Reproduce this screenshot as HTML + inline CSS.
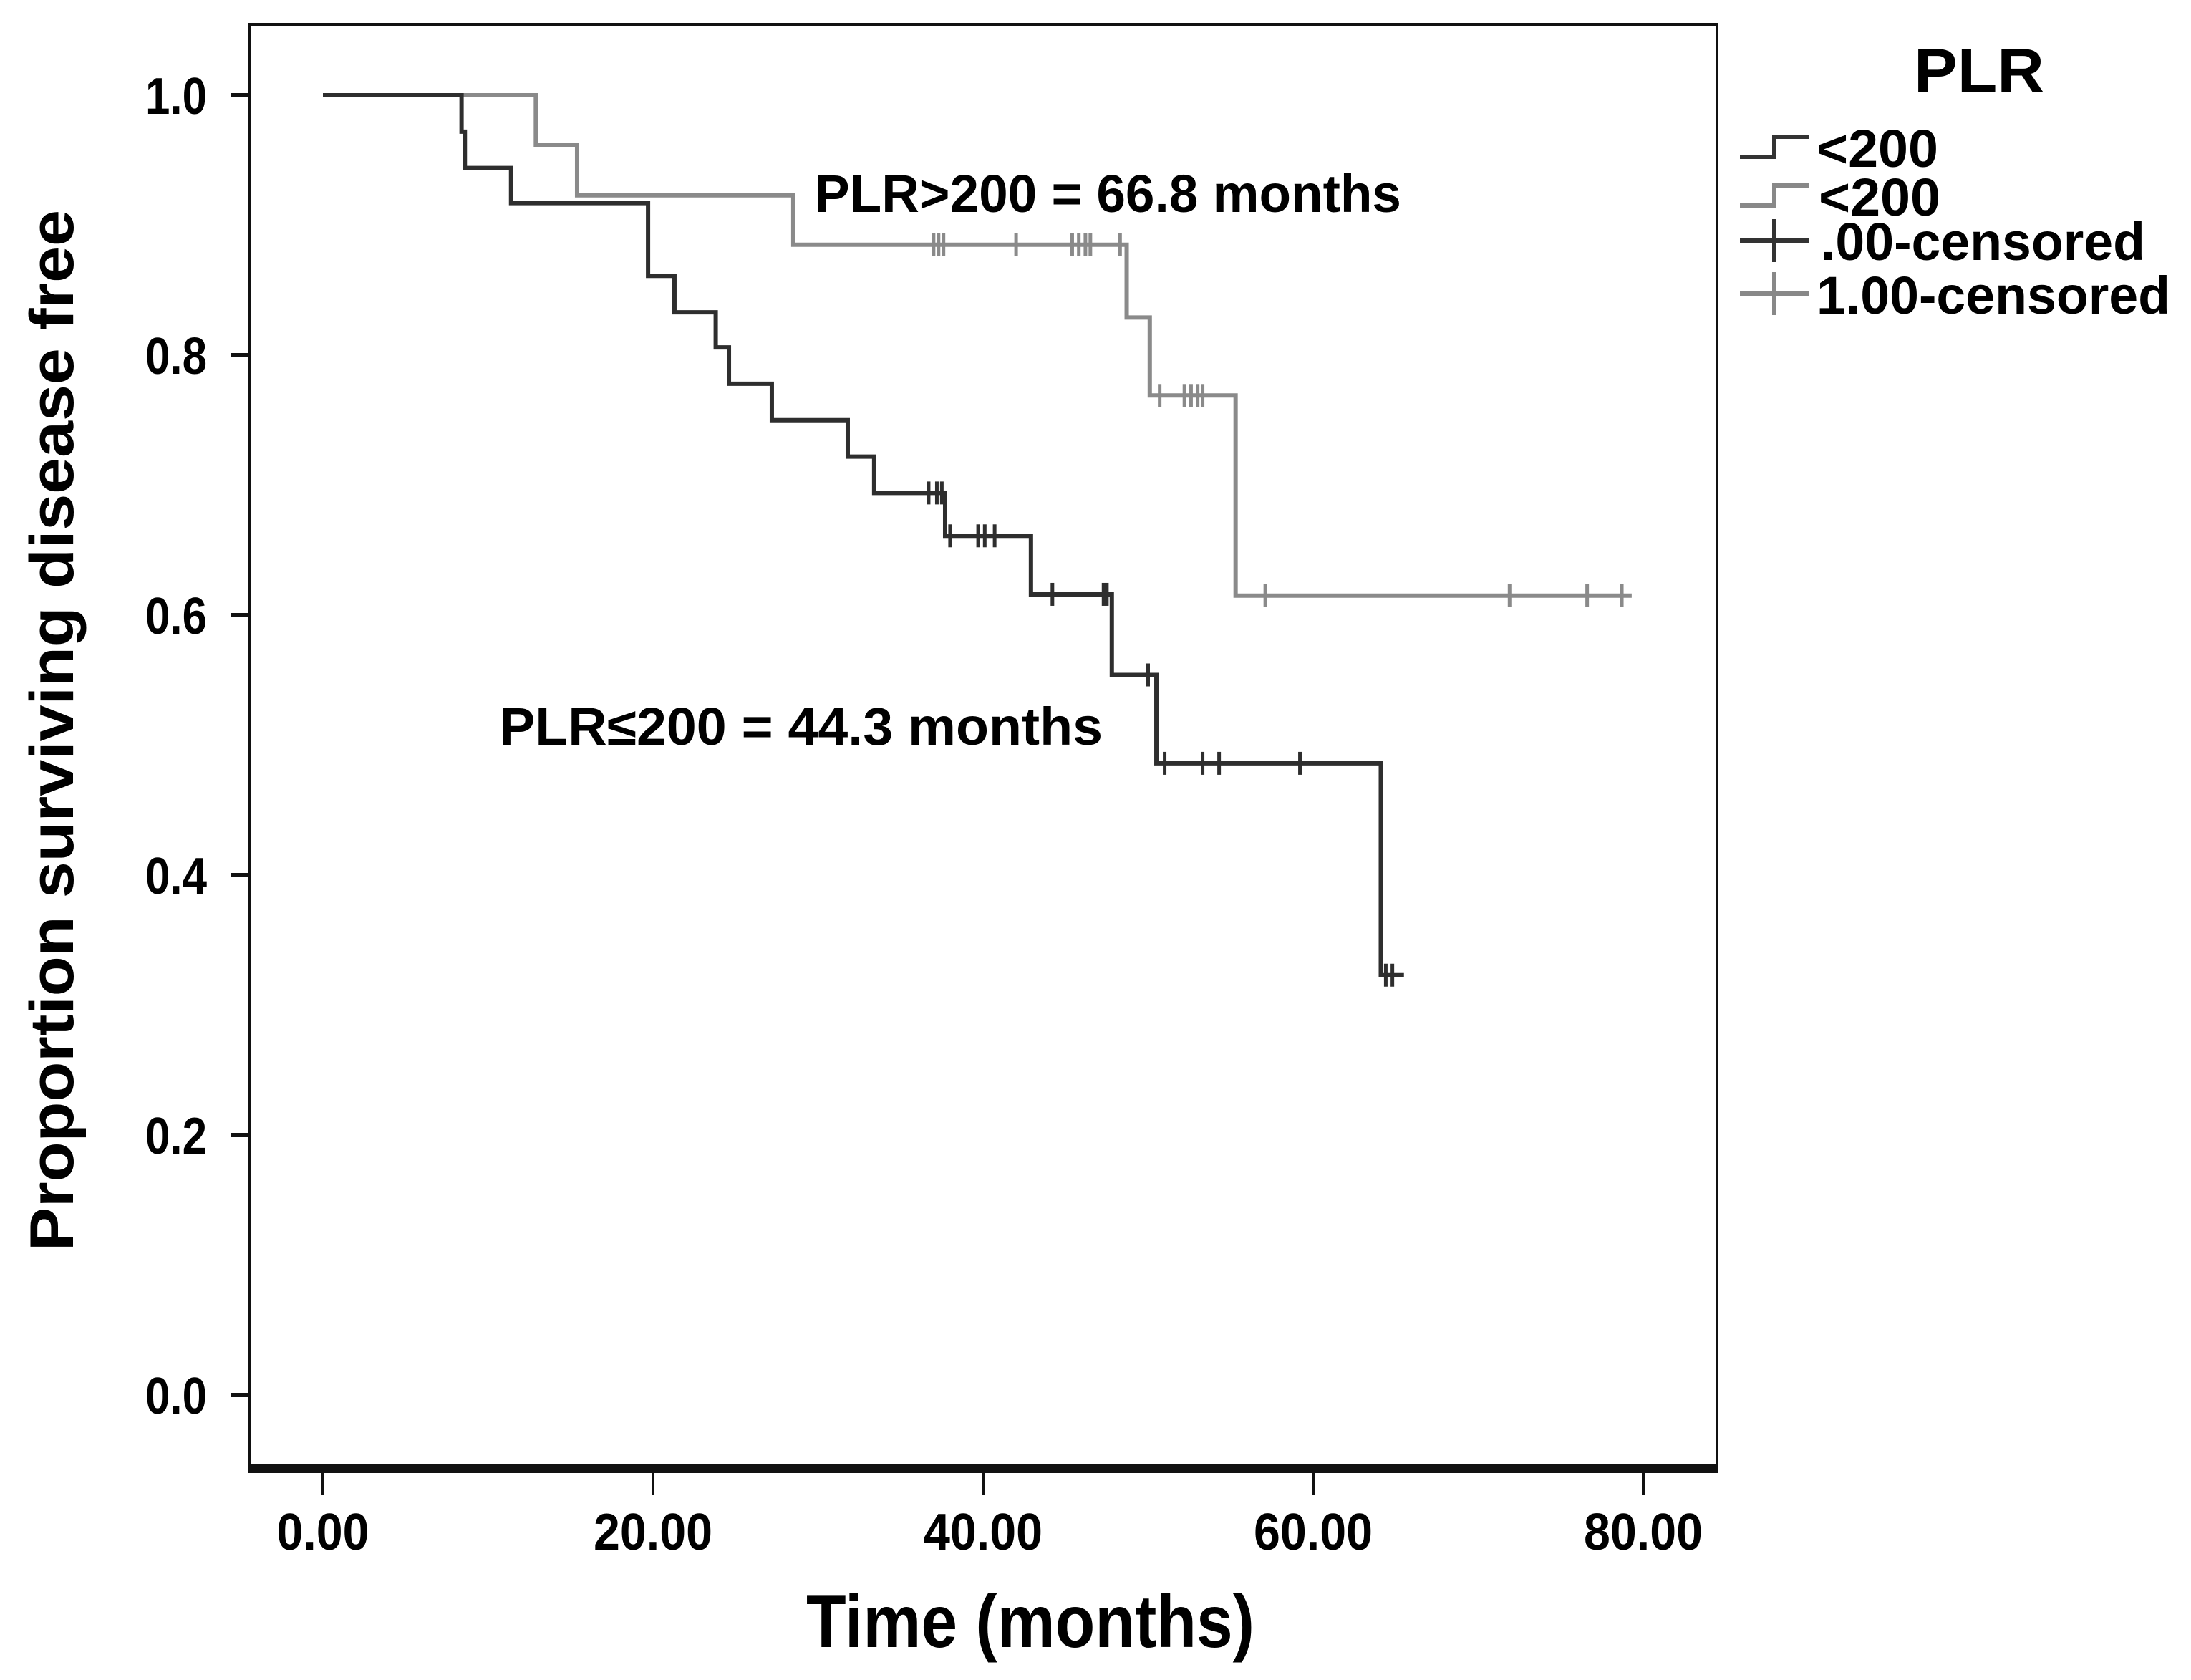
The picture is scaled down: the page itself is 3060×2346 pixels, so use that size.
<!DOCTYPE html>
<html><head><meta charset="utf-8"><style>body{margin:0;background:#fff}svg{display:block}text{font-family:"Liberation Sans",sans-serif;font-weight:bold;fill:#000}</style></head>
<body>
<svg id="chart" width="3060" height="2346" viewBox="0 0 3060 2346" xmlns="http://www.w3.org/2000/svg">
<rect x="0" y="0" width="3060" height="2346" fill="#fff"/>
<rect x="348" y="34" width="2050" height="2015" fill="none" stroke="#111" stroke-width="4"/>
<line x1="346" x2="2400" y1="2051" y2="2051" stroke="#111" stroke-width="12"/>
<g id="axes"></g>
<g id="series"></g>
<text transform="translate(102,1020) rotate(-90)" text-anchor="middle" font-size="86" textLength="1454" lengthAdjust="spacingAndGlyphs">Proportion surviving disease free</text>
<text x="1439" y="2300" text-anchor="middle" font-size="104" textLength="626" lengthAdjust="spacingAndGlyphs">Time (months)</text>
<text x="1138" y="296" font-size="74" textLength="819" lengthAdjust="spacingAndGlyphs">PLR&gt;200 = 66.8 months</text>
<text x="697" y="1040" font-size="74" textLength="843" lengthAdjust="spacingAndGlyphs">PLR≤200 = 44.3 months</text>
<g>
<text x="2673" y="128" font-size="86" textLength="182" lengthAdjust="spacingAndGlyphs">PLR</text>
<path d="M2430 219 H2478 V191 H2527" fill="none" stroke="#333" stroke-width="6"/>
<text x="2537" y="233" font-size="74" textLength="170" lengthAdjust="spacingAndGlyphs">&lt;200</text>
<path d="M2430 287 H2478 V259 H2527" fill="none" stroke="#888" stroke-width="6"/>
<text x="2540" y="301" font-size="74" textLength="170" lengthAdjust="spacingAndGlyphs">&lt;200</text>
<path d="M2430 336 H2527 M2478 306 V366" fill="none" stroke="#333" stroke-width="6"/>
<text x="2543" y="363" font-size="74" textLength="453" lengthAdjust="spacingAndGlyphs">.00-censored</text>
<path d="M2430 410 H2527 M2478 380 V440" fill="none" stroke="#888" stroke-width="6"/>
<text x="2537" y="438" font-size="74" textLength="494" lengthAdjust="spacingAndGlyphs">1.00-censored</text>
</g>
</svg>
<script>
const xTicks = [0, 20, 40, 60, 80];
const xTickLabels = ["0.00", "20.00", "40.00", "60.00", "80.00"];
const yTicks = [0, 0.2, 0.4, 0.6, 0.8, 1.0];
const yTickLabels = ["0.0", "0.2", "0.4", "0.6", "0.8", "1.0"];
// low PLR (dark) step curve
const lowTimes = [0, 8.4, 8.6, 11.4, 19.7, 21.3, 23.8, 24.6, 27.2, 31.8, 33.4, 37.7, 42.9, 47.8, 50.5, 64.1];
const lowSurv  = [1.0, 0.972, 0.944, 0.917, 0.861, 0.833, 0.806, 0.778, 0.75, 0.722, 0.694, 0.661, 0.616, 0.554, 0.486, 0.323];
const lowEnd = 65.5;
const lowCensored = [36.7, 37.2, 37.5, 38.0, 39.7, 40.1, 40.7, 44.2, 47.3, 47.5, 50.0, 51.0, 53.3, 54.3, 59.2, 64.4, 64.8];
// high PLR (light) step curve
const highTimes = [0, 12.9, 15.4, 28.5, 48.7, 50.1, 55.3];
const highSurv  = [1.0, 0.962, 0.923, 0.885, 0.829, 0.769, 0.615];
const highEnd = 79.3;
const highCensored = [37.0, 37.3, 37.6, 42.0, 45.4, 45.8, 46.2, 46.5, 48.3, 50.7, 52.2, 52.6, 53.0, 53.3, 57.1, 71.9, 76.6, 78.7];

const NS = "http://www.w3.org/2000/svg";
const X = t => 451 + t * (2295 - 451) / 80;
const Y = v => 1948 - v * (1948 - 133);
function mk(tag, attrs, parent) {
  const e = document.createElementNS(NS, tag);
  for (const k in attrs) e.setAttribute(k, attrs[k]);
  parent.appendChild(e);
  return e;
}
const axes = document.getElementById('axes');
xTicks.forEach((t, i) => {
  const l = mk('line', {x1: X(t), x2: X(t), y1: 2051, y2: 2088, stroke: '#111', 'stroke-width': 4}, axes);
  
  
  const tx = mk('text', {x: X(t), y: 2164, 'text-anchor': 'middle', 'font-size': 72, textLength: i === 0 ? 129 : 166, lengthAdjust: 'spacingAndGlyphs'}, axes);
  tx.textContent = xTickLabels[i];
  
  
});
yTicks.forEach((v, i) => {
  const l = mk('line', {x1: 322, x2: 348, y1: Y(v), y2: Y(v), stroke: '#111', 'stroke-width': 6}, axes);
  
  
  const tx = mk('text', {x: 289, y: Y(v) + 26, 'text-anchor': 'end', 'font-size': 72, textLength: 86, lengthAdjust: 'spacingAndGlyphs'}, axes);
  tx.textContent = yTickLabels[i];
  
  
});
const series = document.getElementById('series');
function survAt(times, surv, t) {
  let s = surv[0];
  for (let i = 0; i < times.length; i++) if (times[i] <= t) s = surv[i];
  return s;
}
function drawCurve(times, surv, end, cens, color, name) {
  let d = 'M' + X(times[0]) + ' ' + Y(surv[0]);
  for (let i = 1; i < times.length; i++) {
    d += ' H' + X(times[i]) + ' V' + Y(surv[i]);
  }
  d += ' H' + X(end);
  const p = mk('path', {d: d, fill: 'none', stroke: color, 'stroke-width': 6}, series);
  
  
  cens.forEach(t => {
    const y = Y(survAt(times, surv, t));
    const c = mk('line', {x1: X(t), x2: X(t), y1: y - 16, y2: y + 16, stroke: color, 'stroke-width': 5}, series);
    
    
  });
}
drawCurve(highTimes, highSurv, highEnd, highCensored, '#8a8a8a', 'high-plr');
drawCurve(lowTimes, lowSurv, lowEnd, lowCensored, '#2e2e2e', 'low-plr');
</script>
</body></html>
